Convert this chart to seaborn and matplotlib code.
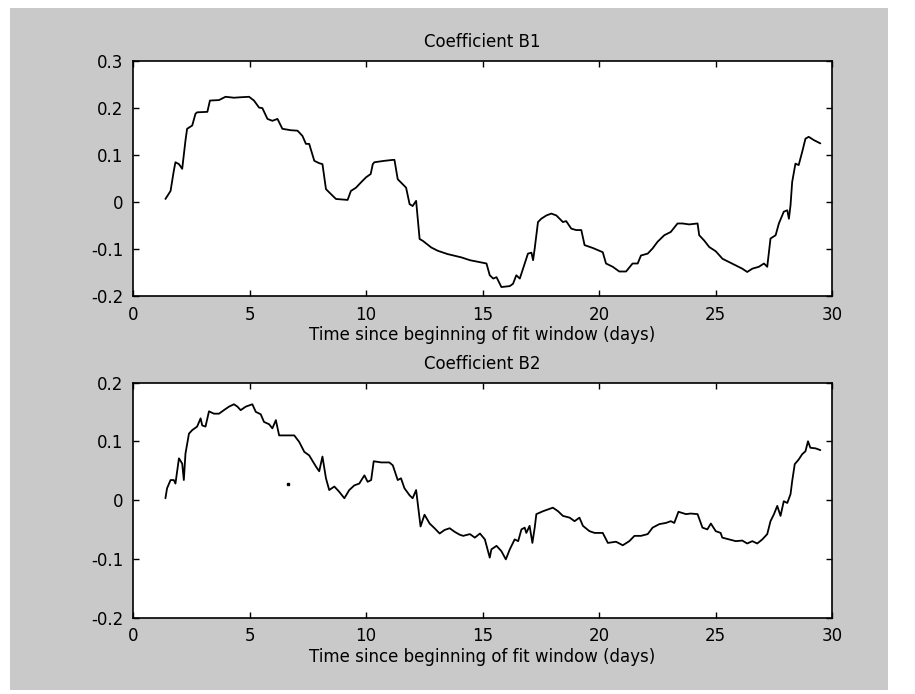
import matplotlib
matplotlib.use("Agg")
import matplotlib.pyplot as plt
from matplotlib.patches import Rectangle
import seaborn as sns
import pandas as pd

# Coefficient B1 over the fit window
b1_days = [1.39, 1.61, 1.75, 1.82, 1.97, 2.11, 2.18, 2.25, 2.32, 2.54, 2.68, 2.75,
           3.19, 3.30, 3.69, 3.97, 4.33, 4.62, 4.98, 5.19, 5.41, 5.55, 5.77, 5.98,
           6.20, 6.41, 6.77, 7.06, 7.27, 7.42, 7.56, 7.78, 7.99, 8.13, 8.28, 8.42,
           8.71, 9.21, 9.35, 9.57, 9.78, 10.00, 10.20, 10.29, 10.36, 10.79, 11.15,
           11.22, 11.36, 11.50, 11.72, 11.87, 12.00, 12.15, 12.30, 12.44, 12.80,
           13.08, 13.50, 14.09, 14.46, 15.17, 15.31, 15.46, 15.60, 15.81, 16.17,
           16.31, 16.45, 16.60, 16.74, 16.95, 17.10, 17.17, 17.24, 17.38, 17.52,
           17.74, 17.95, 18.17, 18.45, 18.59, 18.81, 19.02, 19.24, 19.38, 19.73,
           20.16, 20.30, 20.59, 20.87, 21.16, 21.44, 21.66, 21.80, 22.09, 22.30,
           22.51, 22.80, 23.08, 23.37, 23.58, 23.87, 24.23, 24.30, 24.51, 24.73,
           25.01, 25.30, 25.58, 25.87, 26.15, 26.36, 26.58, 26.86, 27.08, 27.22,
           27.36, 27.58, 27.72, 27.93, 28.08, 28.15, 28.22, 28.29, 28.43, 28.57,
           28.72, 28.86, 29.00, 29.22, 29.50]
b1_vals = [0.006, 0.023, 0.066, 0.084, 0.080, 0.070, 0.100, 0.130, 0.155, 0.162,
           0.187, 0.190, 0.191, 0.215, 0.216, 0.223, 0.221, 0.222, 0.223, 0.215,
           0.200, 0.199, 0.176, 0.172, 0.176, 0.155, 0.152, 0.151, 0.140, 0.123,
           0.123, 0.087, 0.082, 0.080, 0.027, 0.020, 0.006, 0.004, 0.023, 0.030,
           0.041, 0.052, 0.059, 0.080, 0.084, 0.087, 0.089, 0.089, 0.048, 0.041,
           0.030, -0.005, -0.009, 0.002, -0.079, -0.083, -0.097, -0.104, -0.111,
           -0.118, -0.124, -0.131, -0.156, -0.163, -0.160, -0.181, -0.179, -0.174,
           -0.156, -0.163, -0.142, -0.110, -0.108, -0.124, -0.099, -0.043, -0.036,
           -0.029, -0.025, -0.029, -0.043, -0.041, -0.057, -0.060, -0.060, -0.092,
           -0.098, -0.107, -0.131, -0.138, -0.148, -0.148, -0.131, -0.131, -0.114,
           -0.110, -0.099, -0.085, -0.071, -0.064, -0.046, -0.046, -0.048, -0.046,
           -0.071, -0.082, -0.096, -0.105, -0.121, -0.128, -0.135, -0.142, -0.149,
           -0.142, -0.138, -0.131, -0.138, -0.078, -0.071, -0.046, -0.021, -0.018,
           -0.036, -0.007, 0.042, 0.081, 0.078, 0.106, 0.134, 0.138, 0.131, 0.124]

# Coefficient B2 over the fit window
b2_days = [1.39, 1.46, 1.61, 1.75, 1.82, 1.97, 2.11, 2.18, 2.25, 2.40, 2.54, 2.75,
           2.90, 2.97, 3.11, 3.26, 3.47, 3.69, 3.90, 4.12, 4.33, 4.48, 4.62, 4.84,
           5.12, 5.27, 5.48, 5.62, 5.84, 5.98, 6.13, 6.27, 6.63, 6.92, 7.13, 7.35,
           7.56, 7.85, 7.99, 8.13, 8.28, 8.42, 8.64, 8.85, 9.07, 9.28, 9.50, 9.71,
           9.93, 10.07, 10.22, 10.33, 10.65, 11.00, 11.15, 11.36, 11.50, 11.65,
           11.87, 12.00, 12.15, 12.34, 12.51, 12.73, 12.94, 13.16, 13.37, 13.59,
           13.80, 14.02, 14.17, 14.46, 14.67, 14.89, 15.10, 15.31, 15.38, 15.60,
           15.81, 16.00, 16.17, 16.38, 16.53, 16.67, 16.81, 16.88, 17.02, 17.14,
           17.24, 17.31, 17.60, 17.81, 18.02, 18.24, 18.45, 18.74, 18.95, 19.16,
           19.31, 19.59, 19.81, 20.16, 20.38, 20.73, 21.02, 21.30, 21.52, 21.80,
           22.09, 22.30, 22.59, 22.87, 23.08, 23.23, 23.41, 23.73, 23.94, 24.23,
           24.44, 24.65, 24.80, 25.01, 25.22, 25.29, 25.58, 25.87, 26.15, 26.36,
           26.58, 26.79, 27.01, 27.22, 27.36, 27.51, 27.65, 27.79, 27.93, 28.08,
           28.22, 28.29, 28.40, 28.57, 28.72, 28.86, 28.97, 29.07, 29.29, 29.50]
b2_vals = [0.003, 0.020, 0.034, 0.034, 0.028, 0.071, 0.062, 0.034, 0.079, 0.113,
           0.119, 0.125, 0.139, 0.127, 0.125, 0.151, 0.147, 0.147, 0.153, 0.159,
           0.163, 0.159, 0.153, 0.159, 0.163, 0.150, 0.146, 0.133, 0.129, 0.122,
           0.136, 0.110, 0.110, 0.110, 0.099, 0.082, 0.076, 0.057, 0.049, 0.074,
           0.037, 0.017, 0.023, 0.014, 0.003, 0.017, 0.025, 0.028, 0.042, 0.031,
           0.034, 0.066, 0.064, 0.064, 0.059, 0.034, 0.037, 0.020, 0.008, 0.003,
           0.017, -0.045, -0.025, -0.040, -0.048, -0.057, -0.051, -0.048, -0.054,
           -0.059, -0.061, -0.058, -0.064, -0.057, -0.067, -0.098, -0.084, -0.078,
           -0.087, -0.101, -0.084, -0.067, -0.070, -0.050, -0.047, -0.056, -0.044,
           -0.073, -0.047, -0.024, -0.019, -0.016, -0.013, -0.019, -0.027, -0.030,
           -0.036, -0.030, -0.044, -0.053, -0.056, -0.056, -0.073, -0.071, -0.077,
           -0.070, -0.061, -0.061, -0.058, -0.047, -0.041, -0.039, -0.036, -0.039,
           -0.020, -0.024, -0.023, -0.024, -0.047, -0.050, -0.040, -0.053, -0.056,
           -0.064, -0.067, -0.070, -0.069, -0.074, -0.070, -0.074, -0.067, -0.058,
           -0.036, -0.024, -0.010, -0.027, -0.002, -0.005, 0.010, 0.032, 0.061,
           0.069, 0.078, 0.083, 0.100, 0.089, 0.088, 0.085]

# isolated sample in the B2 panel
b2_dot_day = [6.66]
b2_dot_val = [0.027]

titles = ["Coefficient B1", "Coefficient B2"]
x_label = "Time since beginning of fit window (days)"
x_ticks = [0, 5, 10, 15, 20, 25, 30]
b1_yticks = [-0.2, -0.1, 0, 0.1, 0.2, 0.3]
b2_yticks = [-0.2, -0.1, 0, 0.1, 0.2]

sns.set_style("ticks")
plt.rcParams["font.family"] = ["DejaVu Sans"]
plt.rcParams["axes.unicode_minus"] = False
plt.rcParams["text.color"] = "black"
plt.rcParams["axes.labelcolor"] = "black"

fig = plt.figure(figsize=(9.15, 6.94), dpi=100, facecolor="white")
# grey figure panel behind both axes
panel = Rectangle((10 / 915, 4 / 694), 878 / 915, 682 / 694,
                  transform=fig.transFigure, facecolor="#c9c9c9",
                  edgecolor="none", zorder=-10)
fig.patches.append(panel)

ax1 = fig.add_axes([0.1454, 0.5735, 0.7639, 0.3393])
ax2 = fig.add_axes([0.1454, 0.1102, 0.7639, 0.3386])

df1 = pd.DataFrame({"day": b1_days, "value": b1_vals})
df2 = pd.DataFrame({"day": b2_days, "value": b2_vals})

sns.lineplot(data=df1, x="day", y="value", ax=ax1, color="black",
             linewidth=1.3, estimator=None, sort=False)
sns.lineplot(data=df2, x="day", y="value", ax=ax2, color="black",
             linewidth=1.3, estimator=None, sort=False)
ax2.plot(b2_dot_day, b2_dot_val, marker="s", markersize=1.6, color="black",
         linestyle="none")

for ax, title, yt in [(ax1, titles[0], b1_yticks), (ax2, titles[1], b2_yticks)]:
    ax.set_facecolor("white")
    ax.set_xlim(0, 30)
    ax.set_ylim(yt[0], yt[-1])
    ax.set_xticks(x_ticks)
    ax.set_xticklabels([str(t) for t in x_ticks])
    ax.set_yticks(yt)
    ax.set_yticklabels(["0" if v == 0 else f"{v:.1f}" for v in yt])
    ax.set_title(title, fontsize=12, pad=10, color="black")
    ax.set_xlabel(x_label, fontsize=12, labelpad=2, color="black")
    ax.set_ylabel("")
    for side in ["top", "right", "bottom", "left"]:
        ax.spines[side].set_visible(True)
        ax.spines[side].set_color("black")
        ax.spines[side].set_linewidth(1.2)
    ax.tick_params(axis="both", which="major", direction="in", length=4.5,
                   width=1.0, colors="black", labelsize=12,
                   top=True, right=True)
    ax.tick_params(axis="x", pad=7)
    ax.tick_params(axis="y", pad=7)

fig.savefig("out.png", dpi=100, facecolor=fig.get_facecolor())
